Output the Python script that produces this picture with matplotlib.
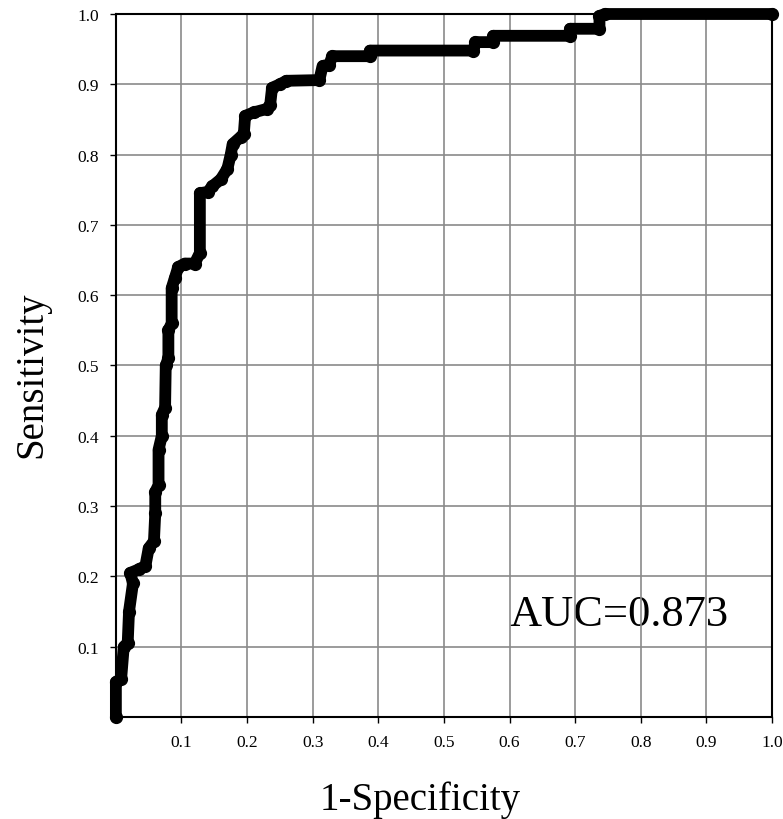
import matplotlib
matplotlib.use("Agg")
import matplotlib.pyplot as plt
import numpy as np

# ROC curve vertices (1-specificity, sensitivity)
fpr = [0.0, 0.0, 0.008, 0.012, 0.018, 0.02, 0.026, 0.022, 0.035, 0.045,
       0.05, 0.058, 0.06, 0.06, 0.065, 0.065, 0.07, 0.07, 0.075, 0.076,
       0.08, 0.08, 0.085, 0.085, 0.09, 0.095, 0.105, 0.12, 0.128, 0.128,
       0.14, 0.147, 0.16, 0.17, 0.175, 0.178, 0.19, 0.195, 0.197, 0.21,
       0.23, 0.235, 0.238, 0.25, 0.26, 0.31, 0.315, 0.325, 0.33, 0.387,
       0.387, 0.545, 0.548, 0.575, 0.575, 0.692, 0.692, 0.737, 0.737, 0.745,
       1.0]
tpr = [0.0, 0.05, 0.054, 0.10, 0.105, 0.15, 0.19, 0.205, 0.21, 0.215,
       0.24, 0.25, 0.29, 0.32, 0.33, 0.38, 0.40, 0.43, 0.44, 0.50,
       0.51, 0.55, 0.56, 0.61, 0.625, 0.64, 0.645, 0.645, 0.66, 0.745,
       0.747, 0.755, 0.765, 0.78, 0.80, 0.815, 0.825, 0.83, 0.855, 0.86,
       0.865, 0.87, 0.895, 0.90, 0.905, 0.906, 0.926, 0.928, 0.94, 0.94,
       0.948, 0.948, 0.96, 0.96, 0.969, 0.969, 0.979, 0.979, 0.997, 1.0,
       1.0]
auc_text = "AUC=0.873"
ticks = [0.1, 0.2, 0.3, 0.4, 0.5, 0.6, 0.7, 0.8, 0.9, 1.0]
tick_labels = ["0.1", "0.2", "0.3", "0.4", "0.5", "0.6", "0.7", "0.8", "0.9", "1.0"]

plt.rcParams['font.family'] = ['Liberation Serif', 'DejaVu Serif']

fig = plt.figure(figsize=(7.83, 8.2), dpi=100)
ax = fig.add_axes([0.148, 0.1244, 0.838, 0.8573])

# thick round-capped line + markers of the same width, like the dotted chain
ax.plot(fpr, tpr, color='black', linewidth=8.5, marker='o', markersize=8.5,
        solid_capstyle='round', solid_joinstyle='round', zorder=3, clip_on=False)

ax.set_xlim(0, 1.0)
ax.set_ylim(0, 1.0)
ax.set_xticks(ticks)
ax.set_xticklabels(tick_labels, fontsize=12.5)
ax.set_yticks(ticks)
ax.set_yticklabels(tick_labels, fontsize=12.5)
ax.tick_params(axis='both', direction='out', length=4, width=1, pad=8)
ax.grid(True, color='#8a8a8a', linewidth=1.2, zorder=1)
ax.set_axisbelow(True)
for sp in ax.spines.values():
    sp.set_linewidth(1.5)
    sp.set_color('black')

ax.text(0.60, 0.147, auc_text, fontsize=32, ha='left', va='center', zorder=0.5)

fig.text(0.536, 0.0244, "1-Specificity", fontsize=28, ha='center', va='center')
fig.text(0.041, 0.543, "Sensitivity", fontsize=28, ha='center', va='center', rotation=90)

fig.savefig("out.png", dpi=100)
